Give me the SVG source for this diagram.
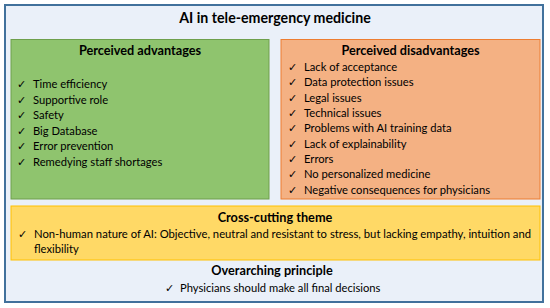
<svg xmlns="http://www.w3.org/2000/svg" width="550" height="308" viewBox="0 0 550 308">
<style>
text{font-family:Lato,"Open Sans","Liberation Sans",sans-serif;fill:#000}
.h{font-weight:bold;font-size:12.7px;text-anchor:middle}
.t{font-weight:bold;font-size:14.2px;text-anchor:middle}
.i{font-size:11.2px}
.c{font-family:"DejaVu Sans",sans-serif;font-size:11px}
</style>
<rect x="5" y="5" width="538" height="297" fill="#EAF0F9" stroke="#41719C" stroke-width="2"/>
<text class="t" x="275" y="22.7">AI in tele-emergency medicine</text>
<g id="advantages">
<rect x="11" y="39.5" width="258" height="159.5" fill="#8FC46E" stroke="#6E9F4C" stroke-width="1"/>
<text class="h" x="140" y="55">Perceived advantages</text>
<text class="c" x="17" y="88">✓</text><text class="c" x="17" y="103.5">✓</text><text class="c" x="17" y="119">✓</text><text class="c" x="17" y="134.5">✓</text><text class="c" x="17" y="150">✓</text><text class="c" x="17" y="165.5">✓</text>
<text class="i" x="33" y="88">Time efficiency</text>
<text class="i" x="33" y="103.5">Supportive role</text>
<text class="i" x="33" y="119">Safety</text>
<text class="i" x="33" y="134.5">Big Database</text>
<text class="i" x="33" y="150">Error prevention</text>
<text class="i" x="33" y="165.5">Remedying staff shortages</text>
</g>
<g id="disadvantages">
<rect x="281" y="39.5" width="259" height="159.5" fill="#F4B183" stroke="#ED7D31" stroke-width="1"/>
<text class="h" x="410.5" y="55">Perceived disadvantages</text>
<text class="c" x="288" y="71">✓</text><text class="c" x="288" y="86.3">✓</text><text class="c" x="288" y="101.6">✓</text><text class="c" x="288" y="117">✓</text><text class="c" x="288" y="132.3">✓</text><text class="c" x="288" y="147.6">✓</text><text class="c" x="288" y="163">✓</text><text class="c" x="288" y="178.3">✓</text><text class="c" x="288" y="193.6">✓</text>
<text class="i" x="304" y="71">Lack of acceptance</text>
<text class="i" x="304" y="86.3">Data protection issues</text>
<text class="i" x="304" y="101.6">Legal issues</text>
<text class="i" x="304" y="117">Technical issues</text>
<text class="i" x="304" y="132.3">Problems with AI training data</text>
<text class="i" x="304" y="147.6">Lack of explainability</text>
<text class="i" x="304" y="163">Errors</text>
<text class="i" x="304" y="178.3">No personalized medicine</text>
<text class="i" x="304" y="193.6">Negative consequences for physicians</text>
</g>
<g id="crosscutting">
<rect x="11" y="206" width="529" height="54" fill="#FFD966" stroke="#FFC000" stroke-width="1"/>
<text class="h" x="275" y="221.7">Cross-cutting theme</text>
<text class="c" x="18" y="237.7">✓</text>
<text class="i" x="34" y="237.7" textLength="497" lengthAdjust="spacingAndGlyphs">Non-human nature of AI: Objective, neutral and resistant to stress, but lacking empathy, intuition and</text>
<text class="i" x="34" y="253">flexibility</text>
</g>
<g id="principle">
<text class="h" x="272" y="275">Overarching principle</text>
<text class="c" x="165" y="291.7">✓</text>
<text class="i" x="180" y="291.7">Physicians should make all final decisions</text>
</g>
<g id="connectors"/>
</svg>
